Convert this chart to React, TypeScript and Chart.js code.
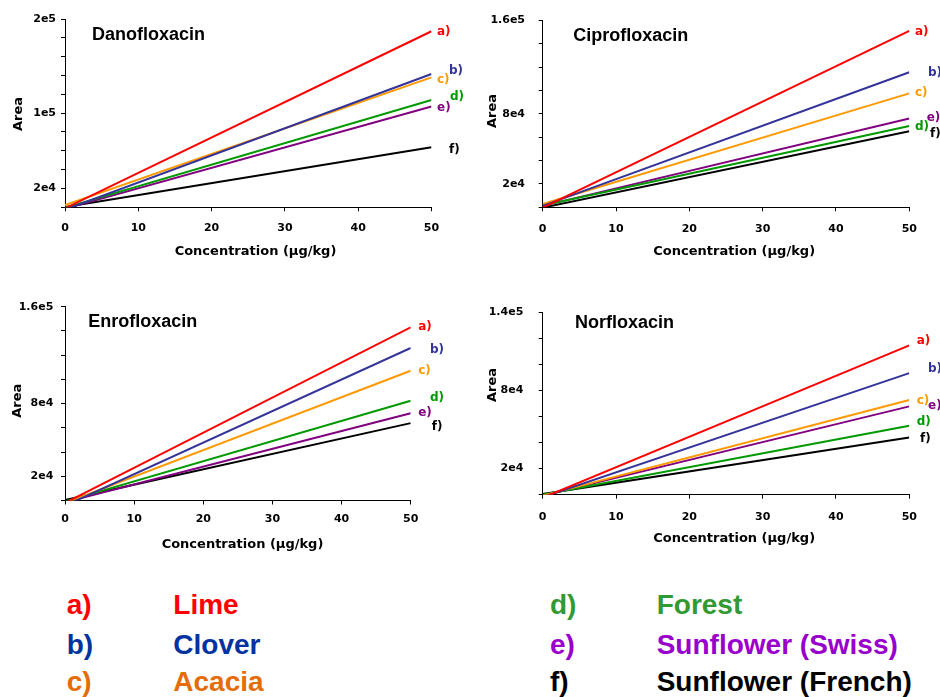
import React, { useEffect, useRef } from 'react';
import { Chart, registerables } from 'chart.js';

Chart.register(...registerables);

// ---------- DATA ----------
const seriesKeys = ['a)', 'b)', 'c)', 'd)', 'e)', 'f)'];
const legendNames = ['Lime', 'Clover', 'Acacia', 'Forest', 'Sunflower (Swiss)', 'Sunflower (French)'];
const concentrations = [0, 50];

// Area at 0 and at 50 µg/kg for series a..f
const danoStart = [-1000, -2500, 2400, -500, -1500, 300];
const danoEnd = [187000, 141600, 138000, 114000, 107000, 63700];
const ciproStart = [-300, 1200, 2800, 1500, 1200, -300];
const ciproEnd = [151000, 115600, 97500, 69500, 76000, 65000];
const enroStart = [-2000, -4300, -2100, -800, -1400, 300];
const enroEnd = [143000, 125900, 107100, 82300, 72100, 63900];
const norStart = [-2300, -1900, -700, 0, -700, 500];
const norEnd = [114400, 93200, 72500, 52900, 67700, 43800];

const xTickStep = 10;
const yTickStep = 20000;
const danoYMax = 200000;
const danoYTickValues = [20000, 100000, 200000];
const danoYTickLabels = ['2e4', '1e5', '2e5'];
const ciproYMax = 160000;
const ciproYTickValues = [20000, 80000, 160000];
const ciproYTickLabels = ['2e4', '8e4', '1.6e5'];
const enroYMax = 160000;
const enroYTickValues = [20000, 80000, 160000];
const enroYTickLabels = ['2e4', '8e4', '1.6e5'];
const norYMax = 140000;
const norYTickValues = [20000, 80000, 140000];
const norYTickLabels = ['2e4', '8e4', '1.4e5'];

// ---------- STYLE ----------
const lineColors = ['#FF0000', '#333399', '#FF9900', '#009900', '#800080', '#000000'];
const legendColors = ['#FF0000', '#0033A0', '#E46C0A', '#339933', '#9900CC', '#000000'];

const W = 470;
const H = 290;

interface PanelCfg {
  title: string;
  start: number[];
  end: number[];
  yMax: number;
  yTickValues: number[];
  yTickLabels: string[];
  left: number;
  top: number;
  area: [number, number, number, number]; // L R T B
  yPad: number;
  xPad: number;
  titlePos: [number, number];
  xTitlePos: [number, number];
  yTitlePos: [number, number];
  nudge: [number, number][];
}

const panels: PanelCfg[] = [
  {
    title: 'Danofloxacin', start: danoStart, end: danoEnd, yMax: danoYMax,
    yTickValues: danoYTickValues, yTickLabels: danoYTickLabels,
    left: 0, top: 0, area: [65, 431.5, 19, 207.3], yPad: 5, xPad: 10,
    titlePos: [92, 35.5], xTitlePos: [255.5, 251.5], yTitlePos: [18.3, 114],
    nudge: [[5.5, 1], [17.5, -3], [5.5, 3], [18.5, -3], [5.5, 1], [17.5, 3]],
  },
  {
    title: 'Ciprofloxacin', start: ciproStart, end: ciproEnd, yMax: ciproYMax,
    yTickValues: ciproYTickValues, yTickLabels: ciproYTickLabels,
    left: 470, top: 0, area: [72.7, 439.3, 19, 207.3], yPad: 13.7, xPad: 11,
    titlePos: [103.3, 35.8], xTitlePos: [264.2, 251.5], yTitlePos: [22.5, 111],
    nudge: [[5.7, 1.5], [18.7, 0.7], [5.7, 0], [5.7, 0.7], [17.4, -0.7], [20.7, 2.3]],
  },
  {
    title: 'Enrofloxacin', start: enroStart, end: enroEnd, yMax: enroYMax,
    yTickValues: enroYTickValues, yTickLabels: enroYTickLabels,
    left: 0, top: 290, area: [65, 410.7, 16.7, 210.5], yPad: 7.7, xPad: 8,
    titlePos: [88.3, 32.5], xTitlePos: [242.5, 255], yTitlePos: [17.8, 110.8],
    nudge: [[7.5, 0], [19.3, 1.7], [7.5, 0], [19.3, -3.3], [7.5, 0], [21, 3.4]],
  },
  {
    title: 'Norfloxacin', start: norStart, end: norEnd, yMax: norYMax,
    yTickValues: norYTickValues, yTickLabels: norYTickLabels,
    left: 470, top: 290, area: [72.7, 439.3, 16, 204.7], yPad: 15.4, xPad: 11.5,
    titlePos: [105, 33.3], xTitlePos: [264.2, 248.3], yTitlePos: [22.5, 95],
    nudge: [[7.4, -4.3], [18.7, -3.7], [7.4, 0.6], [7.4, -3.3], [18.7, 0], [10.7, 1]],
  },
];

const tickFont = { family: '"DejaVu Sans", sans-serif', weight: 'bold' as const, size: 11 };

function Panel({ cfg }: { cfg: PanelCfg }) {
  const ref = useRef<HTMLCanvasElement | null>(null);

  useEffect(() => {
    if (!ref.current) return;
    const [L, R, T, B] = cfg.area;

    const annot = {
      id: 'annot',
      afterDraw(chart: any) {
        const ctx = chart.ctx as CanvasRenderingContext2D;
        const xs = chart.scales.x;
        const ys = chart.scales.y;
        ctx.save();
        ctx.fillStyle = '#000';
        ctx.textBaseline = 'middle';
        ctx.textAlign = 'left';
        ctx.font = 'bold 18px "Liberation Sans", Arial, sans-serif';
        ctx.fillText(cfg.title, cfg.titlePos[0], cfg.titlePos[1]);

        ctx.font = 'bold 13px "DejaVu Sans", sans-serif';
        ctx.textAlign = 'center';
        ctx.fillText('Concentration (µg/kg)', cfg.xTitlePos[0], cfg.xTitlePos[1]);

        ctx.save();
        ctx.translate(cfg.yTitlePos[0], cfg.yTitlePos[1]);
        ctx.rotate(-Math.PI / 2);
        ctx.fillText('Area', 0, 0);
        ctx.restore();

        ctx.font = 'bold 12px "DejaVu Sans", sans-serif';
        ctx.textAlign = 'left';
        const lastX = concentrations[concentrations.length - 1];
        seriesKeys.forEach((k, i) => {
          const px = xs.getPixelForValue(lastX) + cfg.nudge[i][0];
          const py = ys.getPixelForValue(cfg.end[i]) + cfg.nudge[i][1];
          ctx.fillStyle = lineColors[i];
          ctx.fillText(k, px, py);
        });
        ctx.restore();
      },
    };

    const chart = new Chart(ref.current, {
      type: 'line',
      data: {
        datasets: seriesKeys.map((k, i) => ({
          label: legendNames[i],
          data: concentrations.map((c, j) => ({ x: c, y: j === 0 ? cfg.start[i] : cfg.end[i] })),
          borderColor: lineColors[i],
          backgroundColor: lineColors[i],
          borderWidth: 2,
          pointRadius: 0,
          fill: false,
          tension: 0,
        })),
      },
      options: {
        responsive: false,
        animation: false,
        devicePixelRatio: 1,
        layout: { padding: { left: 0, top: T, right: W - R, bottom: 0 } },
        plugins: {
          legend: { display: false },
          tooltip: { enabled: false },
          title: { display: false },
        },
        scales: {
          x: {
            type: 'linear',
            min: 0,
            max: 50,
            ticks: {
              stepSize: xTickStep,
              font: tickFont,
              color: '#000',
              padding: cfg.xPad,
              maxRotation: 0,
            },
            grid: { drawOnChartArea: false, drawTicks: true, tickLength: 4, color: '#000', lineWidth: 1 },
            border: { display: true, color: '#000', width: 1 },
            afterFit: (s: any) => { s.height = H - B; },
          },
          y: {
            type: 'linear',
            min: 0,
            max: cfg.yMax,
            ticks: {
              stepSize: yTickStep,
              autoSkip: false,
              font: tickFont,
              color: '#000',
              padding: cfg.yPad,
              callback: (v: any) => {
                const idx = cfg.yTickValues.indexOf(Number(v));
                return idx >= 0 ? cfg.yTickLabels[idx] : '';
              },
            },
            grid: { drawOnChartArea: false, drawTicks: true, tickLength: 4, color: '#000', lineWidth: 1 },
            border: { display: true, color: '#000', width: 1 },
            afterFit: (s: any) => { s.width = L; },
          },
        },
      },
      plugins: [annot],
    } as any);

    return () => chart.destroy();
  }, [cfg]);

  return (
    <canvas
      ref={ref}
      width={W}
      height={H}
      style={{ position: 'absolute', left: cfg.left, top: cfg.top, width: W, height: H }}
    />
  );
}

const legendRows = [
  { top: 591.3 },
  { top: 631.3 },
  { top: 668.3 },
];

export default function App() {
  useEffect(() => {
    document.body.style.margin = '0';
  }, []);

  const legendFont: React.CSSProperties = {
    position: 'absolute',
    font: 'bold 28px "Liberation Sans", Arial, sans-serif',
    lineHeight: '28px',
    whiteSpace: 'nowrap',
  };

  return (
    <div style={{ position: 'absolute', left: 0, top: 0, width: 940, height: 697, background: '#fff', overflow: 'hidden' }}>
      {panels.map((p) => (
        <Panel key={p.title} cfg={p} />
      ))}
      {seriesKeys.map((k, i) => {
        const col = i < 3 ? 0 : 1;
        const row = i % 3;
        const keyX = col === 0 ? 66.7 : 550;
        const nameX = col === 0 ? 173.3 : 656.7;
        const top = legendRows[row].top;
        return (
          <React.Fragment key={k}>
            <span style={{ ...legendFont, left: keyX, top, color: legendColors[i] }}>{k}</span>
            <span style={{ ...legendFont, left: nameX, top, color: legendColors[i] }}>{legendNames[i]}</span>
          </React.Fragment>
        );
      })}
    </div>
  );
}
